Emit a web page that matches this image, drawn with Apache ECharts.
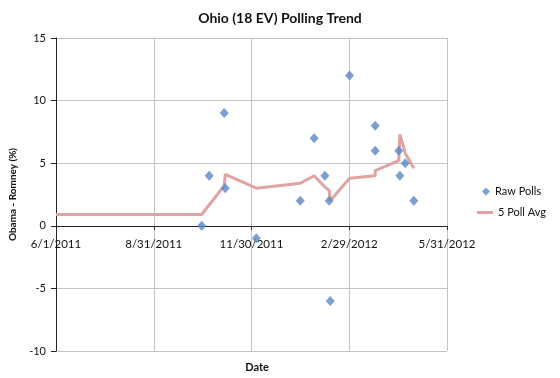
<!DOCTYPE html>
<html>
<head>
<meta charset="utf-8">
<script src="https://cdn.jsdelivr.net/npm/echarts@6/dist/echarts.min.js"></script>
<style>
  html, body { margin: 0; padding: 0; background: #fff; }
  #chart { width: 560px; height: 378px; }
</style>
</head>
<body>
<div id="chart"></div>
<script>
// ---- Data ----
const pollDates = ['2011-10-15','2011-10-22','2011-11-05','2011-11-06','2011-12-05','2012-01-15','2012-01-28','2012-02-07','2012-02-11','2012-02-12','2012-03-01','2012-03-25','2012-03-25','2012-04-16','2012-04-17','2012-04-22','2012-04-30'];
const pollValues = [0, 4, 9, 3, -1, 2, 7, 4, 2, -6, 12, 8, 6, 6, 4, 5, 2];

const avgDates = ['2011-06-01','2011-10-15','2011-11-05','2011-11-06','2011-12-05','2012-01-15','2012-01-28','2012-02-07','2012-02-11','2012-02-12','2012-03-01','2012-03-25','2012-03-25','2012-04-16','2012-04-17','2012-04-22','2012-04-30'];
const avgValues = [0.9, 0.9, 3.2, 4.1, 3.0, 3.4, 4.0, 3.1, 2.8, 2.0, 3.8, 4.0, 4.4, 5.2, 7.3, 5.8, 4.6];

const axisStartDate = '2011-06-01';
const axisEndDate = '2012-05-31';
const yTicks = [-10, -5, 0, 5, 10, 15];

const seriesNames = ['Raw Polls', '5 Poll Avg'];
const titleText = 'Ohio (18 EV) Polling Trend';
const yAxisTitle = 'Obama - Romney (%)';
const xAxisTitle = 'Date';

// ---- Helpers ----
function parseUTC(s) {
  const p = s.split('-').map(Number);
  return Date.UTC(p[0], p[1] - 1, p[2]);
}
const DAY = 86400000;
const origin = parseUTC(axisStartDate);
function dayOffset(s) { return (parseUTC(s) - origin) / DAY; }
function fmtDate(v) {
  const d = new Date(origin + Math.floor(v + 0.001) * DAY);
  return (d.getUTCMonth() + 1) + '/' + d.getUTCDate() + '/' + d.getUTCFullYear();
}

const xMax = dayOffset(axisEndDate);
const pollData = pollDates.map((d, i) => [dayOffset(d), pollValues[i]]);
const avgData = avgDates.map((d, i) => [dayOffset(d), avgValues[i]]);

const FONT = 'Lato';
const chart = echarts.init(document.getElementById('chart'), null, { renderer: 'canvas' });

chart.setOption({
  animation: false,
  backgroundColor: '#ffffff',
  textStyle: { fontFamily: FONT, color: '#111' },
  title: [
    {
      text: titleText,
      left: 'center',
      top: 6,
      textStyle: { fontFamily: FONT, fontSize: 14, fontWeight: 'bold', color: '#111' }
    },
    {
      text: xAxisTitle,
      left: 252,
      top: 357,
      textAlign: 'center',
      textStyle: { fontFamily: FONT, fontSize: 11, fontWeight: 'bold', color: '#111' }
    }
  ],
  legend: [
    {
      data: [seriesNames[0]],
      left: 482, top: 186, padding: 0,
      itemWidth: 8, itemHeight: 8, icon: 'diamond',
      textStyle: { fontFamily: FONT, fontSize: 11, color: '#111' }
    },
    {
      data: [seriesNames[1]],
      left: 477, top: 207, padding: 0,
      itemWidth: 16, itemHeight: 3, icon: 'rect',
      textStyle: { fontFamily: FONT, fontSize: 11, color: '#111' }
    }
  ],
  grid: { left: 56, right: 113, top: 38, bottom: 27, containLabel: false },
  xAxis: [
    {
      type: 'value',
      min: 0,
      max: xMax,
      interval: xMax / 4,
      offset: 0,
      axisLine: { onZero: false, lineStyle: { color: '#222', width: 1 } },
      axisTick: { show: true, inside: false, length: 4, lineStyle: { color: '#222' } },
      axisLabel: {
        formatter: fmtDate,
        margin: 12,
        fontFamily: FONT, fontSize: 11.5, color: '#111',
        showMinLabel: true, showMaxLabel: true
      },
      splitLine: { show: true, lineStyle: { color: '#c4c4c4', width: 1 } }
    }
  ],
  yAxis: {
    type: 'value',
    min: yTicks[0],
    max: yTicks[yTicks.length - 1],
    interval: yTicks[1] - yTicks[0],
    name: yAxisTitle,
    nameLocation: 'middle',
    nameGap: 33,
    nameTextStyle: { fontFamily: FONT, fontSize: 10, fontWeight: 'bold', color: '#111' },
    axisLine: { show: true, lineStyle: { color: '#222', width: 1 } },
    axisTick: { show: true, inside: false, length: 5, lineStyle: { color: '#222' } },
    axisLabel: { margin: 10, fontFamily: FONT, fontSize: 11, color: '#111' },
    splitLine: { show: true, lineStyle: { color: '#c4c4c4', width: 1 } }
  },
  series: [
    {
      name: seriesNames[1],
      type: 'line',
      data: avgData,
      showSymbol: false,
      symbol: 'none',
      lineStyle: { color: '#E0A3A1', width: 3 },
      itemStyle: { color: '#E0A3A1' },
      z: 2
    },
    {
      name: seriesNames[0],
      type: 'scatter',
      data: pollData,
      symbol: 'diamond',
      symbolSize: [9, 10],
      itemStyle: { color: '#5A87C5' },
      z: 3
    }
  ]
});

// Move the date axis (line, ticks, labels) onto y = 0, like the reference
const yZero = chart.convertToPixel({ yAxisIndex: 0 }, 0);
const yBottom = chart.convertToPixel({ yAxisIndex: 0 }, yTicks[0]);
chart.setOption({ xAxis: [{ offset: yZero - yBottom }] });
</script>
</body>
</html>
